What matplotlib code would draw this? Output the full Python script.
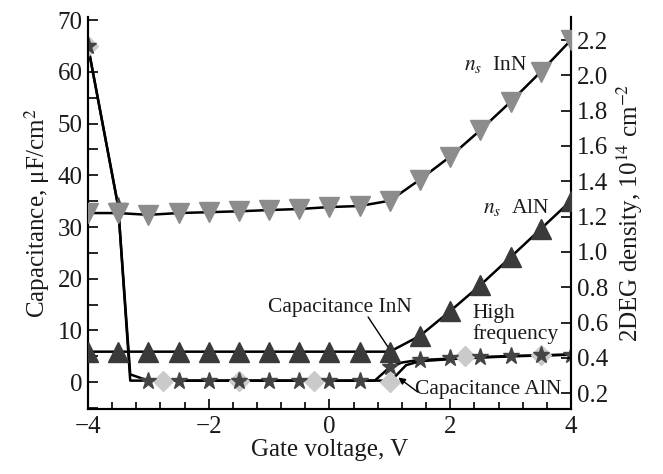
import matplotlib
matplotlib.use("Agg")
import matplotlib.pyplot as plt
from matplotlib.ticker import MultipleLocator

# ---- data ----
vg = [-4.0, -3.5, -3.0, -2.5, -2.0, -1.5, -1.0, -0.5, 0.0, 0.5, 1.0, 1.5, 2.0, 2.5, 3.0, 3.5, 4.0]
ns_inn = [1.22, 1.22, 1.21, 1.22, 1.225, 1.23, 1.237, 1.243, 1.254, 1.26, 1.29, 1.41, 1.54, 1.69, 1.85, 2.02, 2.2]
ns_aln = [0.435, 0.435, 0.435, 0.435, 0.435, 0.435, 0.435, 0.435, 0.435, 0.435, 0.435, 0.525, 0.665, 0.812, 0.97, 1.13, 1.29]
cap_inn_stars = [65.0, 34.0, 0.2, 0.2, 0.2, 0.2, 0.2, 0.2, 0.2, 0.2, 2.9, 4.25, 4.6, 4.9, 5.1, 5.2, 5.35]

vg_diam = [-4.0, -2.75, -1.5, -0.25, 1.0, 2.25, 3.5]
cap_aln_diam = [65.0, 0.2, 0.2, 0.2, 0.0, 5.0, 5.2]

# curve vertices
vg_cap_inn_line = [-4.0, -3.5, -3.3, -3.0, 0.75, 1.0, 1.2, 1.45, 2.0, 2.5, 3.0, 3.5, 4.0]
cap_inn_line = [65.0, 34.0, 1.5, 0.3, 0.3, 2.9, 3.8, 4.25, 4.55, 4.85, 5.05, 5.2, 5.35]
vg_cap_aln_line = [-4.0, -3.5, -3.3, 0.98, 1.08, 1.27, 1.5, 2.0, 2.5, 3.0, 3.5, 4.0]
cap_aln_line = [65.0, 34.0, 0.3, 0.3, 1.0, 3.3, 4.05, 4.45, 4.75, 5.0, 5.15, 5.3]

plt.rcParams['font.family'] = ['Liberation Serif', 'DejaVu Serif']
plt.rcParams['mathtext.fontset'] = 'stix'

fig = plt.figure(figsize=(6.63, 4.74), dpi=100)
ax = fig.add_axes([0.1327, 0.137, 0.7285, 0.827])
ax2 = ax.twinx()

fs = 18      # tick labels and axis labels
fa = 15.5    # in-plot annotations
lw = 1.8
tc = '#1a1a1a'

# capacitance curves (left axis)
ax.plot(vg_cap_aln_line, cap_aln_line, color='black', lw=lw, zorder=2)
ax.plot(vg_cap_inn_line, cap_inn_line, color='black', lw=lw, zorder=2)
ax.plot(vg_diam, cap_aln_diam, linestyle='none', marker='D', ms=10.5, color='#cacaca',
        markeredgecolor='#cacaca', zorder=3)
ax.plot(vg, cap_inn_stars, linestyle='none', marker='*', ms=12.5, color='#444444',
        markeredgecolor='#444444', zorder=4)

# 2DEG density curves (right axis)
ax2.plot(vg, ns_inn, color='black', lw=lw, zorder=2)
ax2.plot(vg, ns_inn, linestyle='none', marker='v', ms=14, color='#8c8c8c', zorder=3)
ax2.plot(vg, ns_aln, color='black', lw=lw, zorder=2)
ax2.plot(vg, ns_aln, linestyle='none', marker='^', ms=14, color='#3a3a3a', zorder=3)

ax.set_xlim(-4, 4)
ax.set_ylim(-5.2, 70.6)
ax2.set_ylim(0.11, 2.33)

ax.xaxis.set_major_locator(MultipleLocator(2))
ax.xaxis.set_minor_locator(MultipleLocator(0.4))
ax.yaxis.set_major_locator(MultipleLocator(10))
ax.yaxis.set_minor_locator(MultipleLocator(5))
ax2.yaxis.set_major_locator(MultipleLocator(0.2))
ax2.yaxis.set_major_formatter(matplotlib.ticker.FormatStrFormatter('%.1f'))

for a in (ax, ax2):
    for s in a.spines.values():
        s.set_linewidth(1.5)
    a.spines['top'].set_visible(False)

ax.tick_params(axis='both', which='both', direction='in', labelsize=fs, width=1.2, labelcolor=tc)
ax.tick_params(axis='x', which='major', length=7, pad=5)
ax.tick_params(axis='x', which='minor', length=5)
ax.tick_params(axis='y', which='both', length=7, pad=4)
ax2.tick_params(axis='y', which='major', direction='in', length=7, width=1.2, labelsize=fs,
                labelcolor=tc, pad=4)

ax.set_xlabel('Gate voltage, V', fontsize=fs, labelpad=1, color=tc)
ax.set_ylabel('Capacitance, μF/cm$^2$', fontsize=fs, labelpad=4, color=tc)
ax2.set_ylabel('2DEG density, 10$^{14}$ cm$^{-2}$', fontsize=fs, labelpad=5, color=tc)

# annotations
ax.text(2.75, 61.5, '$n_s$  InN', fontsize=fa, ha='center', va='center', color=tc)
ax.text(3.1, 33.8, '$n_s$  AlN', fontsize=fa, ha='center', va='center', color=tc)
ax.text(0.17, 14.5, 'Capacitance InN', fontsize=fa, ha='center', va='center', color=tc)
ax.text(2.37, 11.3, 'High\nfrequency', fontsize=fa, ha='left', va='center', linespacing=1.05, color=tc)
ax.text(2.63, -1.5, 'Capacitance AlN', fontsize=fa, ha='center', va='center', color=tc)

arrow = dict(arrowstyle='-|>', color='black', lw=1.0, mutation_scale=10, shrinkA=0, shrinkB=0)
ax.annotate('', xy=(1.11, 4.3), xytext=(0.64, 12.6), arrowprops=arrow)
ax.annotate('', xy=(1.14, 0.9), xytext=(1.46, -1.9), arrowprops=arrow)

fig.savefig('out.png', dpi=100)
